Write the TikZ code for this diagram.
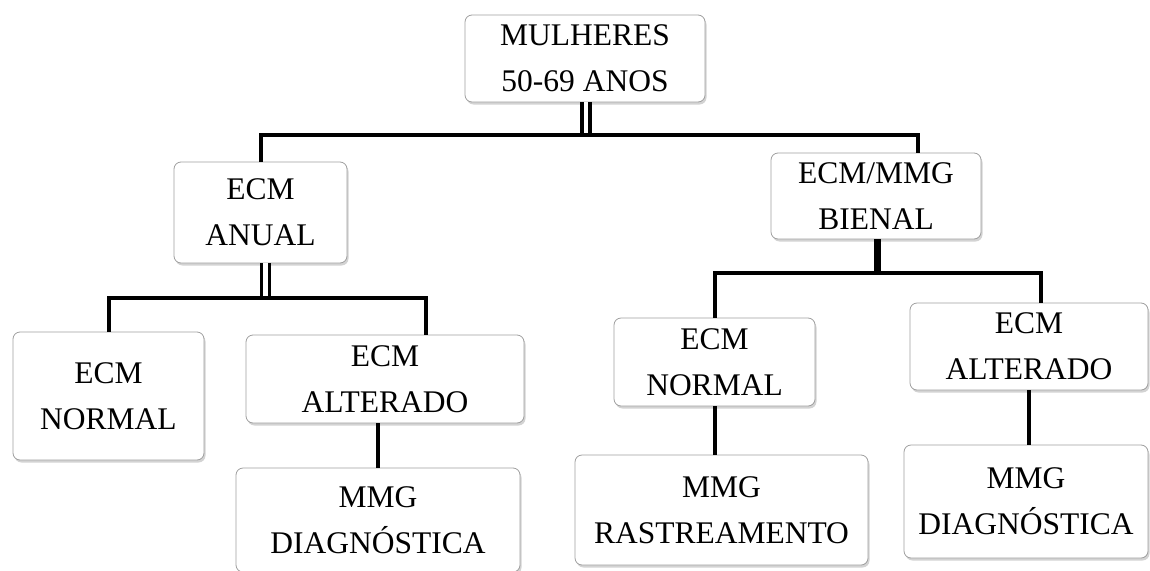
\documentclass[tikz,border=0pt]{standalone}
\usepackage{fontspec}
\setmainfont{Liberation Serif}
\usetikzlibrary{shadows}
\tikzset{box/.style = {draw=gray!75, line width=0.8pt, rounded corners=7pt, fill=white, align=center, inner sep=2pt, drop shadow={shadow xshift=1.5pt, shadow yshift=-2.5pt, opacity=0.35}}}
\tikzset{link/.style = {line width=4pt}}
\tikzset{blink/.style = {line width=7pt}}
\tikzset{dlink/.style = {double, line width=3.5pt, double distance=4.5pt}}

\begin{document}
\begin{tikzpicture}[x=1pt, y=-1pt, font=\fontsize{31.5}{46}\selectfont]
      \useasboundingbox (0,0) rectangle (1150,570);
      \node[box, minimum width=240pt, minimum height=87pt] (mulheres) at (585, 58.5) {MULHERES\\50-69 ANOS};
      \node[box, minimum width=173pt, minimum height=101pt] (anual) at (260.5, 212.5) {ECM\\ANUAL};
      \node[box, minimum width=210pt, minimum height=86pt] (bienal) at (876, 196) {ECM/MMG\\BIENAL};
      \node[box, minimum width=191pt, minimum height=128pt] (normalA) at (108.5, 396) {ECM\\NORMAL};
      \node[box, minimum width=278pt, minimum height=88pt] (alteradoA) at (385, 379) {ECM\\ALTERADO};
      \node[box, minimum width=284pt, minimum height=104pt] (diagA) at (378, 520) {MMG\\DIAGNÓSTICA};
      \node[box, minimum width=201pt, minimum height=88pt] (normalB) at (714.5, 362) {ECM\\NORMAL};
      \node[box, minimum width=293pt, minimum height=110pt] (rastreamento) at (721.5, 510) {MMG\\RASTREAMENTO};
      \node[box, minimum width=238pt, minimum height=87pt] (alteradoB) at (1029, 346.5) {ECM\\ALTERADO};
      \node[box, minimum width=244pt, minimum height=113pt] (diagB) at (1026, 501.5) {MMG\\DIAGNÓSTICA};

      \coordinate (busA) at (586, 135);
      \coordinate (busB) at (265.5, 298);
      \coordinate (busC) at (877, 273);

      \draw[dlink] (mulheres.south -| busA) -- (busA);
      \draw[link] (anual.north) |- (busA) -| ([xshift=42pt]bienal.north);
      \draw[dlink] (anual.south -| busB) -- (busB);
      \draw[link] (normalA.north) |- (busB) -| ([xshift=41pt]alteradoA.north);
      \draw[link] (alteradoA.south -| diagA.north) -- (diagA.north);
      \draw[blink] (bienal.south -| busC) -- (busC);
      \draw[link] (normalB.north) |- (busC) -| ([xshift=12pt]alteradoB.north);
      \draw[link] (normalB.south) -- (normalB.south |- rastreamento.north);
      \draw[link] (alteradoB.south) -- (alteradoB.south |- diagB.north);
    \end{tikzpicture}
\end{document}
